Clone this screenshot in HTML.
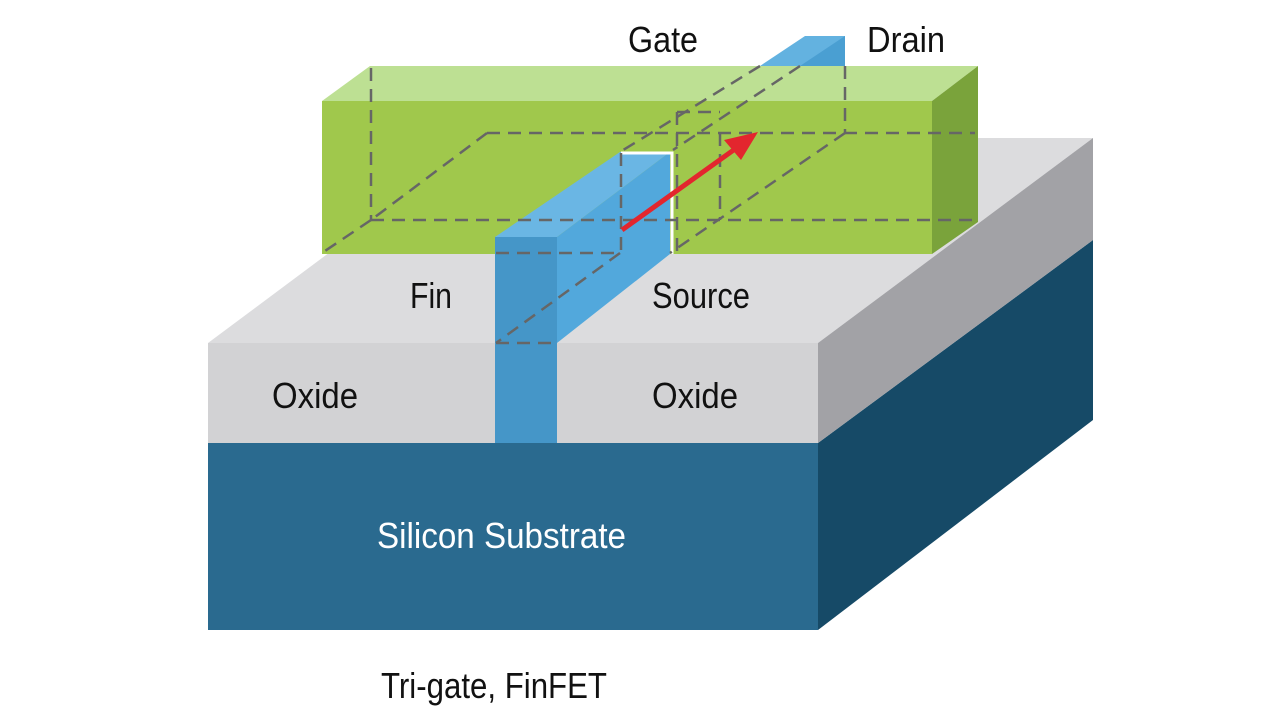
<!DOCTYPE html>
<html><head><meta charset="utf-8"><style>
html,body{margin:0;padding:0;background:#fff;}
svg{display:block}
text{font-family:"Liberation Sans Narrow","Liberation Sans",sans-serif;}
</style></head><body>
<svg width="1280" height="721" viewBox="0 0 1280 721" xmlns="http://www.w3.org/2000/svg">
<rect width="1280" height="721" fill="#fff"/>
<!-- substrate -->
<rect x="208" y="443" width="610" height="187" fill="#2a6a8f"/>
<polygon points="818,443 1093,240 1093,420 818,630" fill="#164a67"/>
<!-- oxide -->
<polygon points="208,343 818,343 1093,138 483,138" fill="#dcdcde"/>
<rect x="208" y="343" width="610" height="100" fill="#d2d2d4"/>
<polygon points="818,343 1093,138 1093,240 818,443" fill="#a2a2a6"/>
<!-- gate -->
<polygon points="322,101 932,101 978,66 370,66" fill="#bde093"/>
<rect x="322" y="101" width="610" height="153" fill="#a0c84c"/>
<polygon points="932,101 978,66 978,222 932,254" fill="#7aa33b"/>
<!-- drain fin piece -->
<polygon points="760,66 805,36 845,36 845,66" fill="#63b2e0"/>
<polygon points="800,66 845,36 845,66" fill="#4a9fd2"/>
<!-- fin -->
<polygon points="495,237 620,152 670,152 557,237" fill="#6ab6e4"/>
<polygon points="557,237 670,152 670,254 557,343" fill="#52a8dc"/>
<rect x="495" y="237" width="62" height="206" fill="#4596c8"/>
<!-- white bracket -->
<polyline points="621,153 672,153 672,254" fill="none" stroke="#fff" stroke-width="3"/>
<!-- dashed lines -->
<g stroke="#666" stroke-width="2.5" stroke-dasharray="13,8" fill="none">
<line x1="371" y1="68" x2="371" y2="220"/>
<line x1="371" y1="220" x2="975" y2="220"/>
<line x1="371" y1="220" x2="322" y2="253"/>
<line x1="487" y1="133" x2="975" y2="133"/>
<line x1="487" y1="133" x2="371" y2="220"/>
<line x1="845" y1="66" x2="845" y2="133"/>
<line x1="845" y1="133" x2="670" y2="253"/>
<line x1="760" y1="66" x2="620" y2="152"/>
<line x1="800" y1="66" x2="673" y2="150"/>
<line x1="677" y1="112" x2="677" y2="253"/>
<line x1="677" y1="112" x2="720" y2="112"/>
<line x1="720" y1="133" x2="720" y2="220"/>
<line x1="621" y1="153" x2="621" y2="253"/>
<line x1="496" y1="253" x2="620" y2="253"/>
<line x1="620" y1="253" x2="496" y2="343"/>
<line x1="496" y1="343" x2="555" y2="343"/>
</g>
<!-- red arrow -->
<line x1="622" y1="230" x2="735" y2="149" stroke="#e3262e" stroke-width="5"/>
<polygon points="758,132 724,140 741,160" fill="#e3262e"/>
<!-- labels -->
<g font-size="36" fill="#111">
<text x="628" y="52" textLength="70" lengthAdjust="spacingAndGlyphs">Gate</text>
<text x="867" y="52" textLength="78" lengthAdjust="spacingAndGlyphs">Drain</text>
<text x="410" y="308" textLength="42" lengthAdjust="spacingAndGlyphs">Fin</text>
<text x="652" y="308" textLength="98" lengthAdjust="spacingAndGlyphs">Source</text>
<text x="272" y="408" textLength="86" lengthAdjust="spacingAndGlyphs">Oxide</text>
<text x="652" y="408" textLength="86" lengthAdjust="spacingAndGlyphs">Oxide</text>
<text x="377" y="548" fill="#fff" textLength="249" lengthAdjust="spacingAndGlyphs">Silicon Substrate</text>
<text x="381" y="698" textLength="226" lengthAdjust="spacingAndGlyphs">Tri-gate, FinFET</text>
</g>
</svg>
</body></html>
